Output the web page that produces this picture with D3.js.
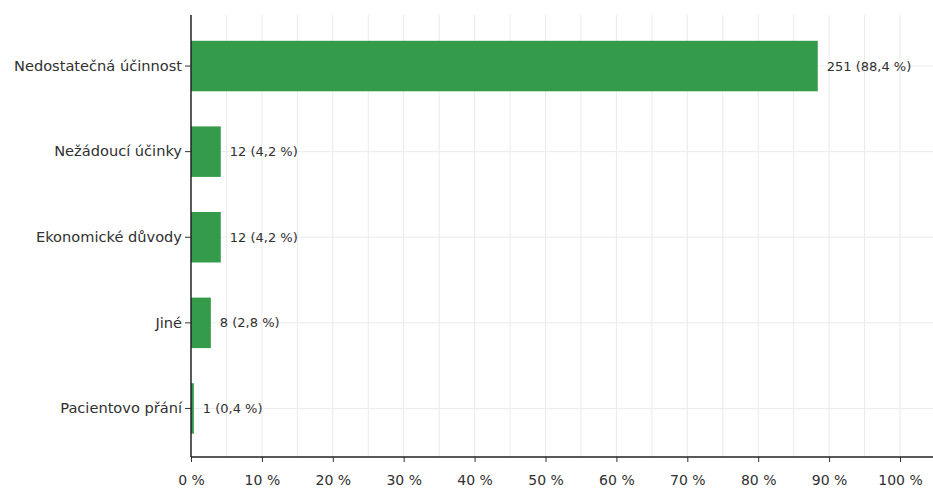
<!DOCTYPE html>
<html><head><meta charset="utf-8">
<script src="https://cdn.jsdelivr.net/npm/d3@7"></script>
<style>body{margin:0;background:#fff}svg{display:block}text{font-family:"DejaVu Sans",sans-serif;fill:#303030}</style>
</head><body><svg id="c" width="933" height="488"></svg>
<script>
const categories = ["Nedostatečná účinnost","Nežádoucí účinky","Ekonomické důvody","Jiné","Pacientovo přání"];
const counts = [251,12,12,8,1];
const percents = [88.4,4.2,4.2,2.8,0.4];
const xTicks = [0,10,20,30,40,50,60,70,80,90,100];
const gridTicks = [5,10,15,20,25,30,35,40,45,50,55,60,65,70,75,80,85,90,95,100,105];

(function(){
const svg = d3.select("#c");
const FONT = "DejaVu Sans, sans-serif";
const x = d3.scaleLinear().domain([0,100]).range([191,900]);
const y = d3.scaleBand().domain(categories).range([23.25,451.25]).paddingInner(0.41).paddingOuter(0.205);
const plotTop = 15, plotBottom = 457, plotRight = 933;

svg.append("g").selectAll("line").data(gridTicks).join("line")
  .attr("x1",d=>x(d)).attr("x2",d=>x(d)).attr("y1",plotTop).attr("y2",plotBottom)
  .attr("stroke","#ebebeb").attr("stroke-width",1);
svg.append("g").selectAll("line").data(categories).join("line")
  .attr("x1",x(0)).attr("x2",plotRight).attr("y1",d=>y(d)+y.bandwidth()/2).attr("y2",d=>y(d)+y.bandwidth()/2)
  .attr("stroke","#ebebeb").attr("stroke-width",1);

svg.append("g").selectAll("rect").data(categories).join("rect")
  .attr("x",x(0)).attr("y",d=>y(d)).attr("width",(d,i)=>x(percents[i])-x(0)).attr("height",y.bandwidth())
  .attr("fill","#349b4a");

svg.append("g").selectAll("text").data(categories).join("text")
  .attr("x",(d,i)=>x(percents[i])+9).attr("y",d=>y(d)+y.bandwidth()/2).attr("dy","0.35em")
  .attr("font-size",13)
  .text((d,i)=>`${counts[i]} (${String(percents[i]).replace(".",",")} %)`);

const ya = svg.append("g").attr("transform",`translate(${x(0)},0)`)
  .call(d3.axisLeft(y).tickSize(6).tickPadding(3));
ya.select(".domain").remove();
ya.selectAll(".tick line").attr("stroke","#333");
ya.selectAll(".tick text").attr("font-size",14.6).attr("fill","#303030").style("font-family",FONT);
svg.append("line").attr("x1",x(0)).attr("x2",x(0)).attr("y1",plotTop).attr("y2",plotBottom).attr("stroke","#222").attr("stroke-width",1.5);

const xa = svg.append("g").attr("transform",`translate(0,${plotBottom})`)
  .call(d3.axisBottom(x).tickValues(xTicks).tickSize(5).tickPadding(13).tickFormat(d=>d+" %"));
xa.select(".domain").remove();
xa.selectAll(".tick line").attr("stroke","#333");
xa.selectAll(".tick text").attr("font-size",14).attr("fill","#303030").style("font-family",FONT);
svg.append("line").attr("x1",x(0)).attr("x2",plotRight).attr("y1",plotBottom).attr("y2",plotBottom).attr("stroke","#222").attr("stroke-width",1.5);
})();
</script></body></html>
